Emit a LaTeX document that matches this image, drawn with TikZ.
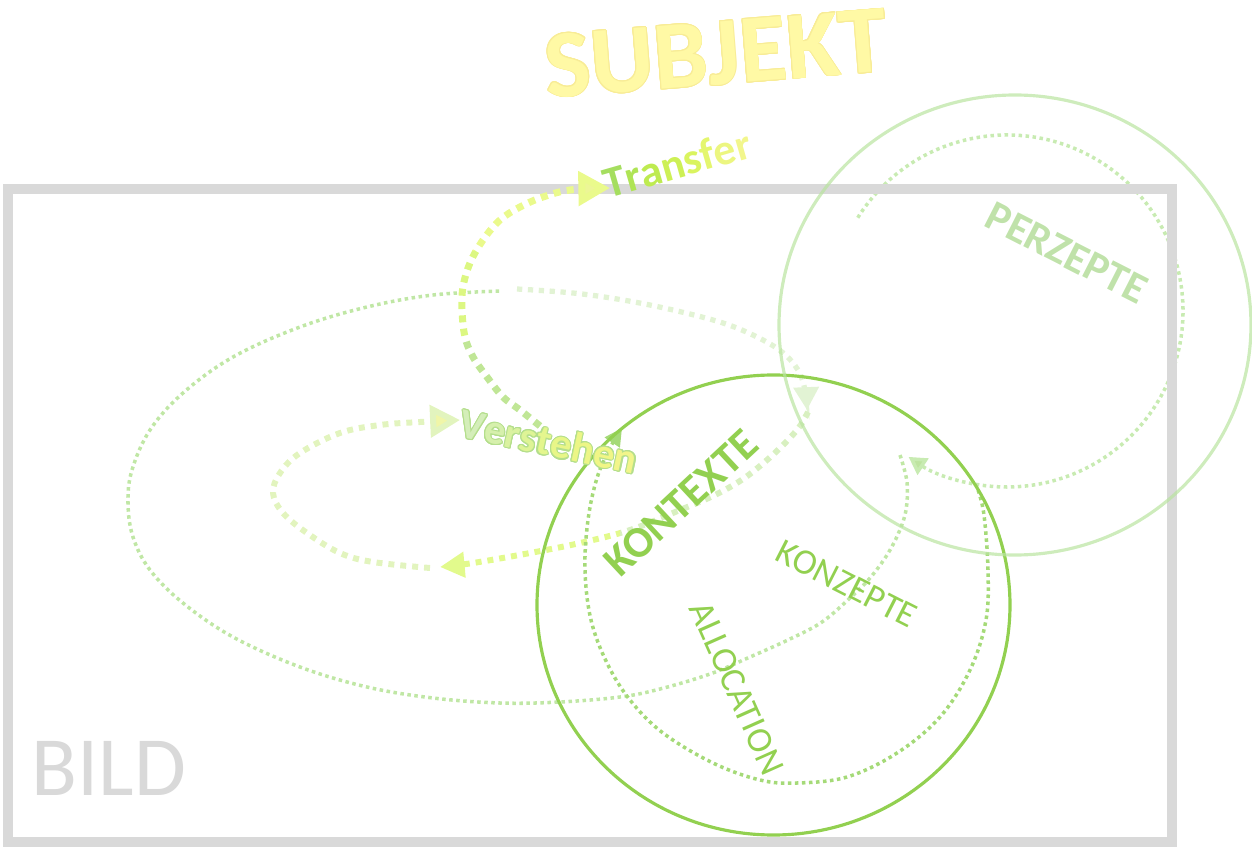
\documentclass[tikz,border=0pt]{standalone}
\usepackage{fontspec}
\setmainfont{Carlito}
\usepackage{contour}
\contournumber{16}
\usetikzlibrary{arrows.meta,calc}
\definecolor{bildgray}{RGB}{217,217,217}
\definecolor{subjfill}{RGB}{255,249,165}
\definecolor{subjline}{RGB}{248,236,150}
\definecolor{kgreen}{RGB}{146,208,80}
\definecolor{perzc}{RGB}{192,226,170}
\definecolor{perzcirc}{RGB}{185,228,160}
\definecolor{perzdot}{RGB}{200,235,178}
\definecolor{perzarrow}{RGB}{190,228,160}
\definecolor{innerdot}{RGB}{165,218,120}
\definecolor{bigdot}{RGB}{192,231,165}
\definecolor{faint}{RGB}{226,243,212}
\definecolor{lowA}{RGB}{216,240,192}
\definecolor{lowC}{RGB}{226,250,140}
\definecolor{verA}{RGB}{226,244,190}
\definecolor{verarrow}{RGB}{240,246,168}
\definecolor{trA}{RGB}{192,230,150}
\definecolor{trB}{RGB}{220,247,130}
\definecolor{trC}{RGB}{234,250,140}
\definecolor{trarrow}{RGB}{236,246,150}
\definecolor{vout}{RGB}{180,222,140}
\begin{document}
\begin{tikzpicture}[x=0.02cm,y=-0.02cm,
  thindot/.style={line width=2pt, dash pattern=on 2pt off 2pt},
  thickdot/.style={line width=3.4pt, dash pattern=on 3.4pt off 3.4pt},
  trdot/.style={line width=4pt, dash pattern=on 4pt off 3.6pt},
  faintdot/.style={line width=3pt, dash pattern=on 3pt off 3.2pt},
  lbl/.style={inner sep=0pt, text depth=0pt, anchor=center},
  bigring/.style={line width=1.8pt}]
\useasboundingbox (0,0) rectangle (1252,848);

% dotted circle inside PERZEPTE
\coordinate (pc) at (1007,311);
\draw[thindot, draw=perzdot, -{Triangle[width=11pt,length=10pt,fill=perzarrow]}]
  ($(pc)+(-148:176)$) arc[start angle=-148, end angle=124, radius=176];

% BILD frame
\draw[bildgray, line width=5.8pt] (8,189) rectangle (1172,842);
\node[lbl, text=bildgray, font=\fontsize{48}{48}\selectfont] (bild) at (109,768) {BILD};

% big thin dotted ellipse
\draw[thindot, draw=bigdot] plot[smooth, tension=0.6] coordinates {
 (900,455) (907,482) (906,510) (899,532) (887,555) (870,578) (850,598)
 (822,622) (790,639) (750,657) (710,674) (660,689) (620,697) (560,702)
 (500,703) (433,698) (367,687) (300,667) (233,637) (183,603) (150,570)
 (133,537) (128,503) (132,470) (150,430) (183,393) (233,357) (300,327)
 (367,307) (433,295) (502,291)};

% faint top path with arrow
\draw[faintdot, draw=faint, -{Triangle[width=14pt,length=13pt,fill=faint]}]
  plot[smooth, tension=0.6] coordinates {
 (517,289) (573,293) (623,300) (673,310) (723,323) (757,337) (782,352)
 (798,370) (805,390) (807,410)};

% lower thick path to left arrow
\begin{scope}
\clip (620,300) rectangle (900,620);
\draw[thickdot, draw=lowA] plot[smooth, tension=0.6] coordinates {
 (808,412) (800,426) (787,441) (767,460) (743,479) (715,495) (680,510)
 (630,530) (580,543) (530,553) (473,563) (440,567)};
\end{scope}
\begin{scope}
\clip (400,300) rectangle (620,620);
\draw[thickdot, draw=lowC, -{Triangle[width=14pt,length=14pt,fill=lowC]}]
  plot[smooth, tension=0.6] coordinates {
 (808,412) (800,426) (787,441) (767,460) (743,479) (715,495) (680,510)
 (630,530) (580,543) (530,553) (473,563) (440,567)};
\end{scope}

% Verstehen loop
\draw[thickdot, draw=verA, -{Triangle[width=18pt,length=17pt,fill=verarrow]}]
  plot[smooth, tension=0.6] coordinates {
 (430,568) (373,562) (340,553) (307,533) (283,513) (273,493) (280,473)
 (300,453) (340,433) (380,425) (420,422) (460,420)};

% Transfer loop (green bottom -> yellow top)
\begin{scope}
\clip (400,340) rectangle (600,440);
\draw[trdot, draw=trA] plot[smooth, tension=0.6] coordinates {
 (540,426) (520,410) (503,397) (487,377) (473,357) (465,337) (462,310)
 (463,287) (470,263) (483,240) (500,220) (520,207) (543,197) (570,190) (610,188)};
\end{scope}
\begin{scope}
\clip (400,250) rectangle (600,340);
\draw[trdot, draw=trB] plot[smooth, tension=0.6] coordinates {
 (540,426) (520,410) (503,397) (487,377) (473,357) (465,337) (462,310)
 (463,287) (470,263) (483,240) (500,220) (520,207) (543,197) (570,190) (610,188)};
\end{scope}
\begin{scope}
\clip (400,150) rectangle (640,250);
\draw[trdot, draw=trC, -{Triangle[width=19pt,length=18pt,fill=trarrow]}]
  plot[smooth, tension=0.6] coordinates {
 (540,426) (520,410) (503,397) (487,377) (473,357) (465,337) (462,310)
 (463,287) (470,263) (483,240) (500,220) (520,207) (543,197) (570,190) (610,188)};
\end{scope}

% inner dotted circle of KONTEXTE
\draw[thindot, draw=innerdot, -{Triangle[width=10pt,length=10pt,fill=innerdot]}]
  plot[smooth, tension=0.6] coordinates {
 (978,490) (984,515) (988,570) (986,620) (970,670) (940,717) (897,753)
 (847,777) (797,783) (760,780) (713,763) (663,733) (630,700) (607,663)
 (591,620) (585,570) (588,520) (597,478) (610,448) (622,428)};

% big circles
\draw[bigring, kgreen] (773.5,605) ellipse[x radius=236.5, y radius=230];
\draw[bigring, perzcirc, draw opacity=0.7] (1015,325) ellipse[x radius=236, y radius=230];

% labels
\contourlength{0.5pt}
\node[lbl, font=\bfseries\fontsize{55}{55}\selectfont, rotate=4.5] (subjekt) at (716,53)
  {\textcolor{subjfill}{\contour{subjline}{SUBJEKT}}};
\node[lbl, font=\bfseries\fontsize{25}{25}\selectfont, rotate=16] (transfer) at (677,163)
  {\textcolor[RGB]{165,222,95}{T}\textcolor[RGB]{175,228,85}{r}\textcolor[RGB]{190,235,80}{a}\textcolor[RGB]{205,240,85}{n}\textcolor[RGB]{218,244,95}{s}\textcolor[RGB]{228,246,110}{f}\textcolor[RGB]{236,246,128}{e}\textcolor[RGB]{242,246,140}{r}};
\contourlength{0.6pt}
\node[lbl, font=\bfseries\fontsize{24}{24}\selectfont, rotate=-12] (verstehen) at (549,441)
  {\textcolor[RGB]{212,238,185}{\contour{vout}{V}}\textcolor[RGB]{214,240,172}{\contour{vout}{e}}\textcolor[RGB]{218,242,160}{\contour{vout}{r}}\textcolor[RGB]{222,244,150}{\contour{vout}{s}}\textcolor[RGB]{228,246,142}{\contour{vout}{t}}\textcolor[RGB]{232,246,136}{\contour{vout}{e}}\textcolor[RGB]{236,246,134}{\contour{vout}{h}}\textcolor[RGB]{240,246,134}{\contour{vout}{e}}\textcolor[RGB]{242,245,138}{\contour{vout}{n}}};
\node[lbl, text=perzc, font=\bfseries\fontsize{24.5}{24.5}\selectfont, rotate=-27] (perzepte) at (1067,253) {PERZEPTE};
\node[lbl, text=kgreen, font=\bfseries\fontsize{25}{25}\selectfont, rotate=43] (kontexte) at (681,503) {KONTEXTE};
\node[lbl, text=kgreen, font=\fontsize{20.5}{20.5}\selectfont, rotate=-27] (konzepte) at (847,584) {KONZEPTE};
\node[lbl, text=kgreen, font=\fontsize{20.5}{20.5}\selectfont, rotate=-66] (allocation) at (737,688) {ALLOCATION};
\end{tikzpicture}
\end{document}
